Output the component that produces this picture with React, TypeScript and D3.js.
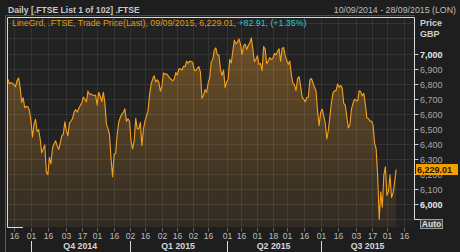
import React from "react";
import * as d3 from "d3";

const W = 460;
const H = 252;

// UK market holidays inside the displayed range
const holidays = [
  "2014-12-25", "2014-12-26", "2015-01-01", "2015-04-03",
  "2015-04-06", "2015-05-04", "2015-05-25", "2015-08-31",
];
const rangeStart = "2014-09-10";
const rangeEnd = "2015-09-28";

// FTSE 100 daily closes, one per trading day from 10/09/2014 to 09/09/2015
const closes = [
  // Sep 2014
  6830, 6799, 6806, 6804, 6792, 6780, 6819, 6837, 6773, 6676, 6706, 6639, 6649, 6646, 6623,
  // Oct 2014
  6557, 6446, 6527, 6563, 6482, 6495, 6431, 6340, 6366, 6392, 6212, 6195, 6310, 6267, 6372,
  6399, 6419, 6388, 6363, 6402, 6453, 6463, 6546,
  // Nov 2014
  6487, 6453, 6539, 6551, 6567, 6611, 6627, 6611, 6635, 6654, 6671, 6710, 6696, 6679, 6750,
  6729, 6731, 6723, 6723, 6722,
  // Dec 2014
  6656, 6742, 6716, 6680, 6742, 6672, 6529, 6500, 6461, 6300, 6182, 6331, 6336, 6466, 6545,
  6576, 6598, 6609, 6633, 6548, 6566,
  // Jan 2015
  6548, 6417, 6366, 6419, 6570, 6501, 6501, 6542, 6388, 6498, 6550, 6585, 6620, 6728, 6796,
  6832, 6852, 6811, 6825, 6810, 6749,
  // Feb 2015
  6782, 6871, 6860, 6865, 6853, 6837, 6829, 6818, 6829, 6873, 6857, 6898, 6898, 6889, 6915,
  6912, 6949, 6935, 6949, 6946,
  // Mar 2015
  6940, 6889, 6885, 6902, 6912, 6876, 6703, 6721, 6761, 6740, 6804, 6837, 6945, 6962, 7022,
  7037, 6991, 6990, 6895, 6855, 6891, 6773,
  // Apr 2015
  6809, 6833, 6961, 6937, 7015, 7089, 7064, 7076, 7097, 7060, 6994, 7052, 7062, 7028, 7053,
  7070, 7104, 7030, 6946, 6960,
  // May 2015
  6985, 6927, 6933, 6886, 7046, 7029, 6933, 6949, 6973, 6960, 6968, 7000, 6990, 7013, 7031,
  6948, 7033, 7040, 6984,
  // Jun 2015
  6953, 6928, 6950, 6859, 6804, 6791, 6753, 6831, 6846, 6784, 6710, 6696, 6680, 6708, 6710,
  6825, 6834, 6805, 6776, 6753, 6620, 6521,
  // Jul 2015
  6608, 6630, 6585, 6536, 6432, 6490, 6581, 6673, 6737, 6753, 6753, 6797, 6775, 6789, 6770,
  6668, 6656, 6579, 6505, 6528, 6631, 6669, 6696,
  // Aug 2015
  6689, 6686, 6752, 6747, 6718, 6736, 6664, 6571, 6568, 6550, 6551, 6526, 6404, 6367, 6187,
  5898, 6081, 5979, 6192, 6247,
  // Sep 2015
  6058, 6083, 6194, 6043, 6074, 6146.1, 6229.01,
];

const tickDates = [
  "2014-09-16", "2014-10-01", "2014-10-16", "2014-11-03", "2014-11-17", "2014-12-01",
  "2014-12-16", "2015-01-02", "2015-01-16", "2015-02-02", "2015-02-16", "2015-03-02",
  "2015-03-16", "2015-04-01", "2015-04-16", "2015-05-01", "2015-05-18", "2015-06-01",
  "2015-06-16", "2015-07-01", "2015-07-16", "2015-08-03", "2015-08-17", "2015-09-01",
  "2015-09-16",
];
const quarterLabels = ["Q4 2014", "Q1 2015", "Q2 2015", "Q3 2015"];
const quarterStarts = ["2014-10-01", "2015-01-02", "2015-04-01", "2015-07-01"];
const yTicks = [6000, 6100, 6200, 6300, 6400, 6500, 6600, 6700, 6800, 6900, 7000];
const gridLevels = [5900, 6000, 6100, 6200, 6300, 6400, 6500, 6600, 6700, 6800, 6900, 7000, 7100, 7200];

function tradingDays(): string[] {
  const out: string[] = [];
  const d = new Date(rangeStart + "T00:00:00Z");
  const end = new Date(rangeEnd + "T00:00:00Z");
  while (d <= end) {
    const wd = d.getUTCDay();
    const s = d.toISOString().slice(0, 10);
    if (wd !== 0 && wd !== 6 && !holidays.includes(s)) out.push(s);
    d.setUTCDate(d.getUTCDate() + 1);
  }
  return out;
}

const FONT = "'Liberation Sans', Arial, sans-serif";

export default function App() {
  const days = tradingDays();
  const idx = (s: string) => days.indexOf(s);

  const plot = { left: 7.5, right: 414.5, top: 17.5, bottom: 227.5 };
  const x = d3.scaleLinear().domain([0, days.length - 1]).range([7.8, 416.2]);
  const y = d3.scaleLinear().domain([6000, 7000]).range([204, 53.5]);

  const pts = closes.map((v, i) => [i, v] as [number, number]);
  const line = d3.line<[number, number]>().x((d) => x(d[0])).y((d) => y(d[1]))(pts) || "";
  const area =
    d3.area<[number, number]>().x((d) => x(d[0])).y0(plot.bottom).y1((d) => y(d[1]))(pts) || "";

  const last = closes[closes.length - 1];
  const prev = closes[closes.length - 2];
  const chg = last - prev;
  const pct = (chg / prev) * 100;
  const lastDay = days[closes.length - 1];
  const [yy, mm, dd] = lastDay.split("-");
  const fmt = d3.format(",.2f");
  const legendA = `LineGrd, .FTSE, Trade Price(Last), ${dd}/${mm}/${yy}, ${fmt(last)}, `;
  const legendB = `${chg >= 0 ? "+" : ""}${d3.format(".2f")(chg)}, (${pct >= 0 ? "+" : ""}${d3.format(".2f")(pct)}%)`;

  const qx = quarterStarts.map((q) => x(idx(q)));
  const qCenters = qx.map((v, i) => (v + (i < qx.length - 1 ? qx[i + 1] : plot.right)) / 2);

  const yLast = y(last);

  return (
    <svg width={W} height={H} style={{ display: "block", position: "absolute", left: 0, top: 0 }} fontFamily={FONT}>
      <defs>
        <linearGradient id="fillg" x1="0" y1="0" x2="0" y2="1">
          <stop offset="0%" stopColor="#f0a030" stopOpacity={0.36} />
          <stop offset="100%" stopColor="#f0a030" stopOpacity={0.07} />
        </linearGradient>
        <clipPath id="clipPlot">
          <rect x={plot.left} y={plot.top} width={plot.right - plot.left} height={plot.bottom - plot.top} />
        </clipPath>
      </defs>
      <rect x={0} y={0} width={W} height={H} fill="#1e1e1e" />
      <rect x={plot.left} y={plot.top} width={plot.right - plot.left} height={plot.bottom - plot.top} fill="#222222" />

      {/* header */}
      <text x={8} y={12.5} fontSize={8.6} fontWeight="bold" fill="#c8c8c8">
        Daily [.FTSE List 1 of 102] .FTSE
      </text>
      <text x={456} y={12.5} fontSize={8.8} fill="#bdbdbd" textAnchor="end">
        10/09/2014 - 28/09/2015 (LON)
      </text>

      {/* outer frame */}
      <line x1={5.5} y1={15.5} x2={5.5} y2={H} stroke="#5a5a5a" />
      <line x1={5.5} y1={15.5} x2={plot.right} y2={15.5} stroke="#4a4a4a" />

      <g clipPath="url(#clipPlot)">
        <path d={area} fill="url(#fillg)" />
        {gridLevels.map((g) => (
          <line key={"h" + g} x1={plot.left} x2={plot.right} y1={Math.round(y(g)) + 0.5} y2={Math.round(y(g)) + 0.5} stroke="#ffffff" strokeOpacity={0.08} />
        ))}
        {tickDates.map((t) => {
          const xx = Math.round(x(idx(t))) + 0.5;
          return <line key={"v" + t} x1={xx} x2={xx} y1={plot.top} y2={plot.bottom} stroke="#ffffff" strokeOpacity={0.08} />;
        })}
        <path d={line} fill="none" stroke="#f5a11c" strokeWidth={1.1} strokeLinejoin="round" />
      </g>

      {/* legend */}
      <text x={12} y={26} fontSize={8.8} fill="#e39a14">
        <tspan>{legendA}</tspan>
        <tspan fill="#33c7c7">{legendB}</tspan>
      </text>

      {/* plot frame */}
      <path d={`M${plot.left},${plot.bottom} V${plot.top} H${plot.right} V219.5 H420`} fill="none" stroke="#dcdcdc" strokeWidth={1} />
      <line x1={plot.left} x2={23} y1={plot.bottom} y2={plot.bottom} stroke="#dcdcdc" />

      {/* y axis */}
      <text x={420} y={25.5} fontSize={9} fontWeight="bold" fill="#cfcfcf">Price</text>
      <text x={420} y={36.5} fontSize={9} fontWeight="bold" fill="#cfcfcf">GBP</text>
      {yTicks.map((t) => {
        const yy2 = Math.round(y(t)) + 0.5;
        const strong = t === 6000 || t === 7000;
        return (
          <g key={"yt" + t}>
            <line x1={plot.right} x2={418.5} y1={yy2} y2={yy2} stroke="#cfcfcf" />
            <text x={420} y={yy2 + 3.2} fontSize={9} fontWeight={strong ? "bold" : "normal"} fill={strong ? "#e6e6e6" : "#a8a8a8"}>
              {d3.format(",")(t)}
            </text>
          </g>
        );
      })}
      <rect x={416} y={yLast - 5.5} width={42} height={11} fill="#f5a000" />
      <text x={417} y={yLast + 3.3} fontSize={9} fontWeight="bold" fill="#2a1c00">
        {fmt(last)}
      </text>
      <rect x={420.5} y={219.5} width={22} height={9} fill="#3c3c3c" stroke="#9c9c9c" />
      <text x={431.5} y={227.2} fontSize={8.5} fontWeight="bold" fill="#e0e0e0" textAnchor="middle">Auto</text>

      {/* x axis */}
      {tickDates.map((t) => {
        const xx = Math.round(x(idx(t))) + 0.5;
        return (
          <g key={"xt" + t}>
            <line x1={xx} x2={xx} y1={plot.bottom + 0.5} y2={plot.bottom + 4} stroke="#6a6a6a" />
            <text x={xx} y={239} fontSize={8.6} fill="#bdbdbd" textAnchor="middle">
              {t.slice(8, 10)}
            </text>
          </g>
        );
      })}
      {quarterStarts.map((q, i) => {
        const xx = Math.round(qx[i]) + 0.5;
        return (
          <g key={"q" + q}>
            <line x1={xx} x2={xx} y1={241} y2={H} stroke="#d8d8d8" />
            <text x={qCenters[i]} y={249} fontSize={8.8} fontWeight="bold" fill="#d6d6d6" textAnchor="middle">
              {quarterLabels[i]}
            </text>
          </g>
        );
      })}
    </svg>
  );
}
